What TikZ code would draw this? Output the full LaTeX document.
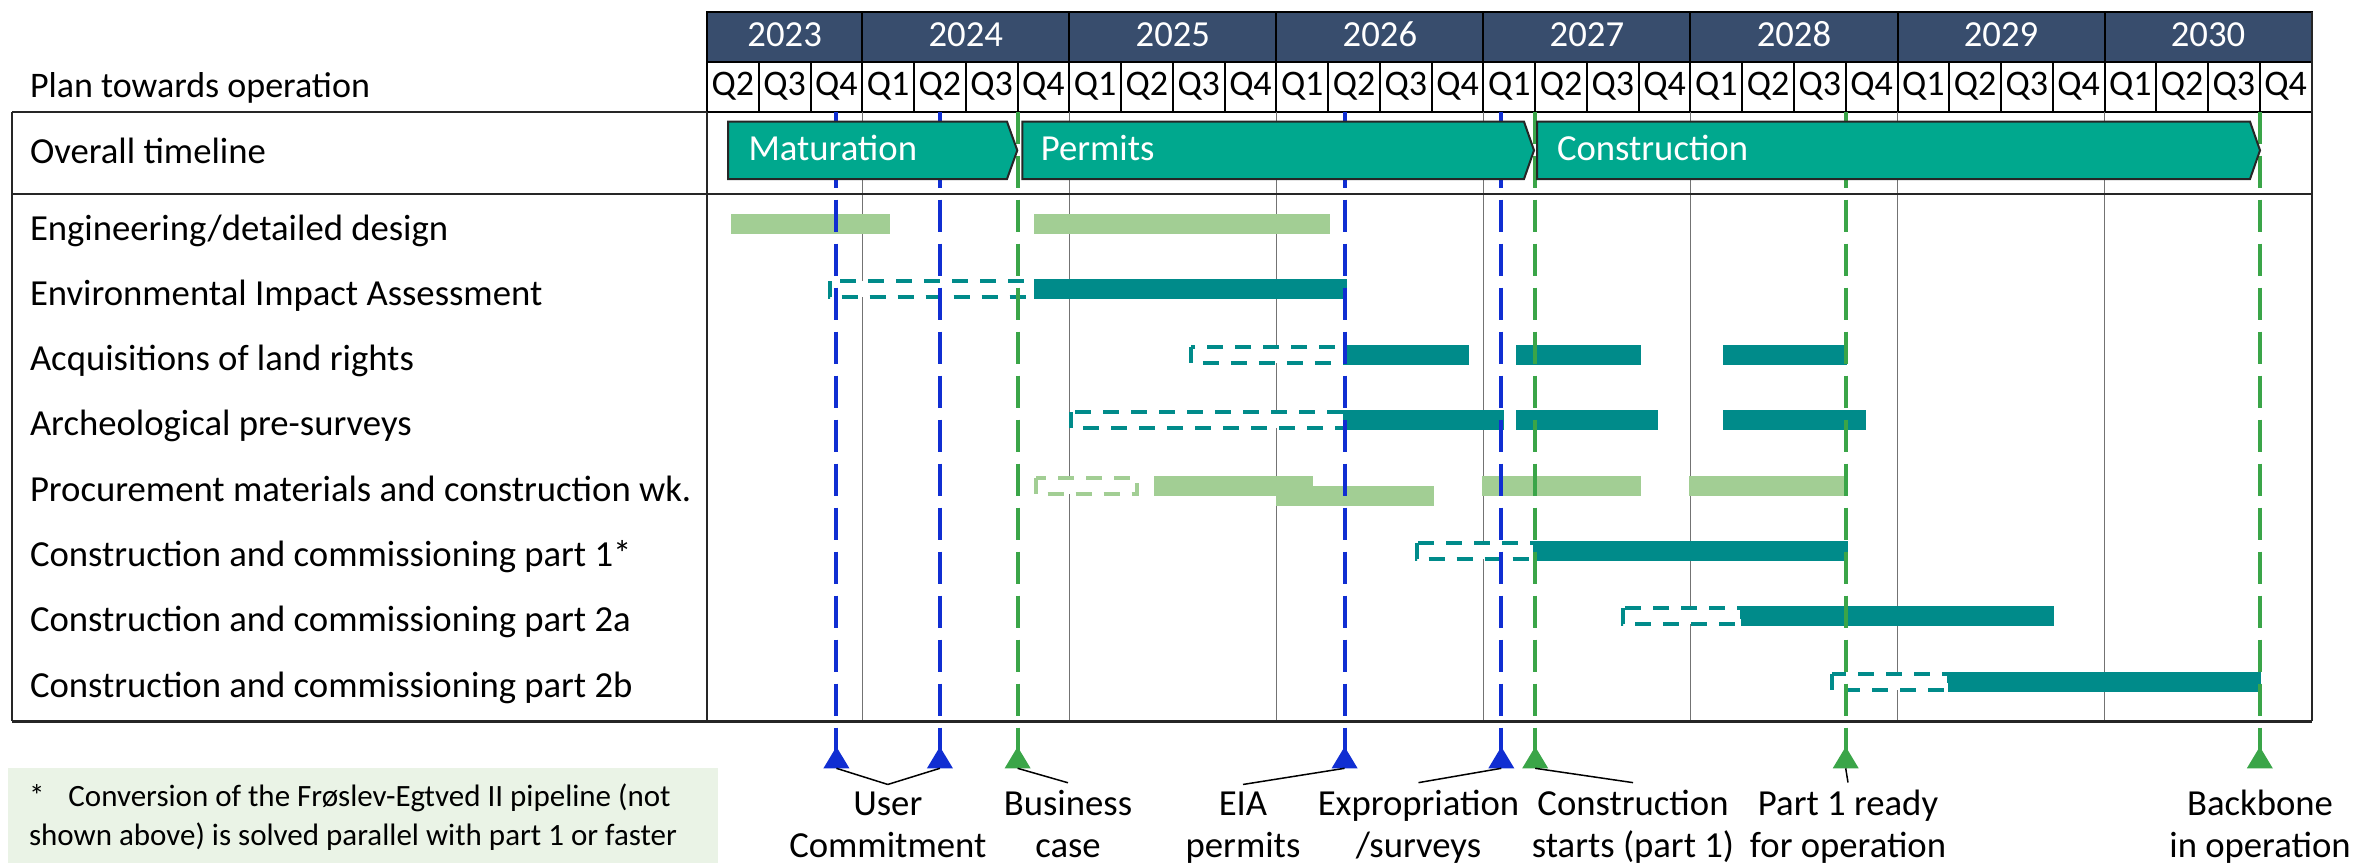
\documentclass[tikz,border=0pt]{standalone}
\usepackage{fontspec}
\setmainfont{Carlito}
\definecolor{navy}{HTML}{384D6D}
\definecolor{chev}{HTML}{00A88E}
\definecolor{tealbar}{HTML}{008B8A}
\definecolor{lgbar}{HTML}{A2CE94}
\definecolor{mblue}{HTML}{102ED2}
\definecolor{mgreen}{HTML}{3AA548}
\definecolor{notebg}{HTML}{EAF3E6}
\begin{document}
\begin{tikzpicture}[x=1pt,y=-1pt,
  every node/.style={inner sep=0pt,outer sep=0pt},
  f36/.style={font=\fontsize{36}{42}\selectfont},
  flight/.style={font=\fontsize{36.7}{42}\selectfont},
  f31/.style={font=\fontsize{31}{38}\selectfont},
  hdrcell/.style={fill=navy,draw=black,line width=2pt},
  qcell/.style={draw=black,line width=2pt},
  frame/.style={draw=black!85,line width=2pt},
  gridln/.style={draw=black!55,line width=1.5pt},
  solidbar/.style={fill=tealbar},
  lightbar/.style={fill=lgbar},
  dashbar/.style={draw=tealbar,fill=white,line width=4pt,dash pattern=on 16pt off 12pt},
  dashlight/.style={draw=lgbar,fill=white,line width=4pt,dash pattern=on 16pt off 12pt},
  mstone/.style={line width=4pt,dash pattern=on 32.5pt off 11.5pt},
  chevron/.style={fill=chev,draw=black!85,line width=2pt,line join=miter},
  chevtext/.style={flight,text=white,anchor=base west},
  rowlabel/.style={flight,anchor=base west},
  conn/.style={draw=black,line width=1.5pt},
  msl/.style={flight,anchor=base}
]
\useasboundingbox (0,0) rectangle (2356,863);

% footnote background
\fill[notebg] (7.7,768.3) rectangle (717.8,863);

% header
\foreach \yr/\a/\b in {2023/0/3,2024/3/7,2025/7/11,2026/11/15,2027/15/19,2028/19/23,2029/23/27,2030/27/31}{
  \draw[hdrcell] ({707+51.76*\a},12) rectangle ({707+51.76*\b},61.7);
  \node[flight,text=white,anchor=base] (yr\yr) at ({707+51.76*(\a+\b)/2},46.7) {\yr};
}
\foreach \i in {0,...,30}{
  \pgfmathtruncatemacro\qn{mod(\i+1,4)+1}
  \draw[qcell] ({707+51.76*\i},61.7) rectangle ({707+51.76*(\i+1)},111.7);
  \node[f36,anchor=base] (q\i) at ({707+51.76*(\i+0.5)},95) {Q\qn};
}

% year grid lines in body
\foreach \i in {3,7,11,15,19,23,27}
  \draw[gridln] ({707+51.76*\i},111.7) -- ({707+51.76*\i},721);

% row labels
\node[f36,anchor=base west] (plan) at (30,97.7) {Plan towards operation};
\node[rowlabel] (overall) at (30,163.8) {Overall timeline};
\node[rowlabel] (r1) at (30,240) {Engineering/detailed design};
\node[rowlabel] (r2) at (30,305.3) {Environmental Impact Assessment};
\node[rowlabel] (r3) at (30,370.6) {Acquisitions of land rights};
\node[rowlabel] (r4) at (30,435.9) {Archeological pre-surveys};
\node[rowlabel] (r5) at (30,501.2) {Procurement materials and construction wk.};
\node[rowlabel] (r6) at (30,566.5) {Construction and commissioning part 1*};
\node[rowlabel] (r7) at (30,631.8) {Construction and commissioning part 2a};
\node[rowlabel] (r8) at (30,697.1) {Construction and commissioning part 2b};

% row 1 engineering (c=224)
\fill[lightbar] (731,214) rectangle (890.3,234);
\fill[lightbar] (1033.7,214) rectangle (1330,234);
% row 2 EIA (c=289.4)
\draw[dashbar] (829.6,281.4) rectangle (1036.7,297.4);
\fill[solidbar] (1033.7,279.4) rectangle (1347,299.4);
% row 3 acquisitions (c=354.8)
\draw[dashbar] (1190.8,346.8) rectangle (1345,362.8);
\fill[solidbar] (1343.3,344.8) rectangle (1468.75,364.8);
\fill[solidbar] (1516,344.8) rectangle (1640.6,364.8);
\fill[solidbar] (1723.2,344.8) rectangle (1847.3,364.8);
% row 4 archeology (c=420.2)
\draw[dashbar] (1071.4,412.2) rectangle (1345,428.2);
\fill[solidbar] (1343.3,410.2) rectangle (1503.6,430.2);
\fill[solidbar] (1515.6,410.2) rectangle (1658,430.2);
\fill[solidbar] (1723.2,410.2) rectangle (1865.6,430.2);
% row 5 procurement
\draw[dashlight] (1035.7,477.7) rectangle (1136.8,493.7);
\fill[lightbar] (1275.5,486.3) rectangle (1433.7,506.3);
\fill[lightbar] (1154,475.7) rectangle (1313.3,495.7);
\fill[lightbar] (1482,475.7) rectangle (1640.6,495.7);
\fill[lightbar] (1688.8,475.7) rectangle (1848.2,495.7);
% row 6 construction part 1 (c=551)
\draw[dashbar] (1416.5,543) rectangle (1535,559);
\fill[solidbar] (1533.7,541) rectangle (1847.5,561);
% row 7 part 2a (c=616.4)
\draw[dashbar] (1623.2,608.4) rectangle (1742,624.4);
\fill[solidbar] (1741,606.4) rectangle (2053.5,626.4);
% row 8 part 2b (c=681.8)
\draw[dashbar] (1832,673.8) rectangle (1948.8,689.8);
\fill[solidbar] (1947.8,671.8) rectangle (2261,691.8);

% milestone lines and triangles
\foreach \n/\x/\c in {1/836.4/mblue,2/939.9/mblue,3/1344.6/mblue,4/1501.3/mblue,5/1017.6/mgreen,6/1535.2/mgreen,7/1845.7/mgreen,8/2259.8/mgreen}{
  \coordinate (m\n t) at (\x,111.7);
  \coordinate (m\n e) at (\x,760);
  \coordinate (m\n b) at (\x,768.3);
  \draw[mstone,draw=\c] (m\n t) -- (m\n e);
  \fill[\c] (m\n b) ++(-13,0) -- ++(26,0) -- ++(-13,-21.6) -- cycle;
}

% overall timeline chevrons
\draw[chevron] (728,121.7) -- (1007,121.7) -- (1017.3,150.35) -- (1007,179) -- (728,179) -- cycle;
\draw[chevron] (1022.4,121.7) -- (1524,121.7) -- (1534,150.35) -- (1524,179) -- (1022.4,179) -- cycle;
\draw[chevron] (1537,121.7) -- (2250,121.7) -- (2260,150.35) -- (2250,179) -- (1537,179) -- cycle;
\node[chevtext] (cmat) at (748.5,160) {Maturation};
\node[chevtext] (cper) at (1040.8,160) {Permits};
\node[chevtext] (ccon) at (1557,160) {Construction};

% table frame
\draw[frame] (12.4,111.7) -- (707,111.7);
\draw[frame] (12.4,194) -- (2311.56,194);
\draw[frame] (12.4,111.7) -- (12.4,721);
\draw[frame] (707,111.7) -- (707,721);
\draw[frame] (2311.56,12) -- (2311.56,721);
\draw[frame,line width=3pt] (12.4,721) -- (2311.56,721);

% milestone labels
\node[msl,inner ysep=7pt] (lUser) at (887.8,815) {User};
\node[msl] (lUser2) at (887.8,857) {Commitment};
\node[msl,inner ysep=7pt] (lBus) at (1068,815) {Business};
\node[msl] (lBus2) at (1068,857) {case};
\node[msl,inner ysep=7pt] (lEIA) at (1243,815) {EIA};
\node[msl] (lEIA2) at (1243,857) {permits};
\node[msl,inner ysep=7pt] (lExp) at (1418.5,815) {Expropriation};
\node[msl] (lExp2) at (1418.5,857) {/surveys};
\node[msl,inner ysep=7pt] (lCon) at (1633,815) {Construction};
\node[msl] (lCon2) at (1633,857) {starts (part 1)};
\node[msl,inner ysep=7pt] (lPart) at (1848,815) {Part 1 ready};
\node[msl] (lPart2) at (1848,857) {for operation};
\node[msl,inner ysep=7pt] (lBack) at (2260,815) {Backbone};
\node[msl] (lBack2) at (2260,857) {in operation};

% label connectors
\draw[conn] (m1b) -- (lUser.north);
\draw[conn] (m2b) -- (lUser.north);
\draw[conn] (m5b) -- (lBus.north);
\draw[conn] (m3b) -- (lEIA.north);
\draw[conn] (m4b) -- (lExp.north);
\draw[conn] (m6b) -- (lCon.north);
\draw[conn] (m7b) -- (lPart.north);

% footnote
\node[f31,anchor=base west] (fn1) at (29,806.7) {*\hspace{24pt}Conversion of the Frøslev-Egtved II pipeline (not};
\node[f31,anchor=base west] (fn2) at (29,845) {shown above) is solved parallel with part 1 or faster};
\end{tikzpicture}
\end{document}
